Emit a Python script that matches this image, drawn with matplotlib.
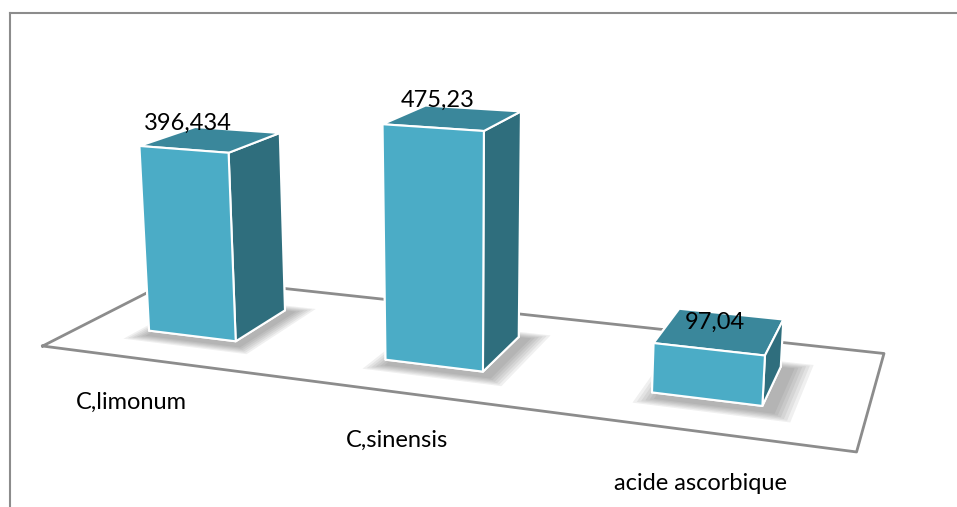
import matplotlib
matplotlib.use('Agg')
import matplotlib.pyplot as plt
import numpy as np
from mpl_toolkits.mplot3d.art3d import Poly3DCollection

categories = ['C,limonum', 'C,sinensis', 'acide ascorbique']
values = [396.434, 475.23, 97.04]
value_labels = ['396,434', '475,23', '97,04']

front_col = '#4BACC6'
top_col = '#3A879B'
side_col = '#2F6E7D'

plt.rcParams['font.family'] = ['Lato', 'DejaVu Sans']

fig = plt.figure(figsize=(9.57, 5.07), dpi=100)
ax = fig.add_axes([-0.027, 0.0, 1.0, 1.1], projection='3d', computed_zorder=False)
ax.set_proj_type('persp', focal_length=0.5)
ax.view_init(elev=14, azim=-70)

n = len(values)
bw = 0.38
y0, depth = 0.3, 0.42

# floor outline
floor, = ax.plot([0, n, n, 0, 0], [0, 0, 1, 1, 0], [0, 0, 0, 0, 0],
                 color='#8c8c8c', linewidth=2, zorder=1)
floor.set_clip_on(False)

for i, v in enumerate(values):
    c = i + 0.47
    x0 = c - bw / 2

    # soft drop shadow on the floor, built from stacked translucent layers
    for e in np.linspace(0.06, 0.0, 6):
        sh = [(x0 - e + 0.02, y0 - e - 0.06, 0), (x0 + bw + e + 0.05, y0 - e - 0.06, 0),
              (x0 + bw + e + 0.05, y0 + depth + e, 0), (x0 - e + 0.02, y0 + depth + e, 0)]
        pc = Poly3DCollection([sh], facecolor='#404040', edgecolor='none',
                              alpha=0.08, zorder=1.5)
        pc.set_clip_on(False)
        ax.add_collection3d(pc)

    # faces: bottom, top, front, back, left, right
    cols = [front_col, top_col, front_col, front_col, side_col, side_col]
    bar = ax.bar3d(x0, y0, 0, bw, depth, v, color=cols,
                   shade=False, edgecolor='white', linewidth=1.5, zorder=2 + i)
    bar.set_clip_on(False)
    ax.text(c + 0.02, y0, v + 32, value_labels[i], fontsize=17,
            ha='center', va='bottom', zorder=10)
    ax.text(c + 0.1, -0.3, -25, categories[i], fontsize=17,
            ha='center', va='center', zorder=10)

ax.set_xlim(0, n)
ax.set_ylim(0, 1)
ax.set_zlim(0, 540)
ax.set_box_aspect((3, 1, 1.0), zoom=1.57)
ax.set_axis_off()

# chart frame
fig.add_artist(plt.Line2D([9.5 / 957, 1], [1 - 13 / 507, 1 - 13 / 507],
                          color='#8c8c8c', linewidth=1.5))
fig.add_artist(plt.Line2D([9.5 / 957, 9.5 / 957], [0, 1 - 13 / 507],
                          color='#8c8c8c', linewidth=1.5))

fig.savefig('out.png', dpi=100)
